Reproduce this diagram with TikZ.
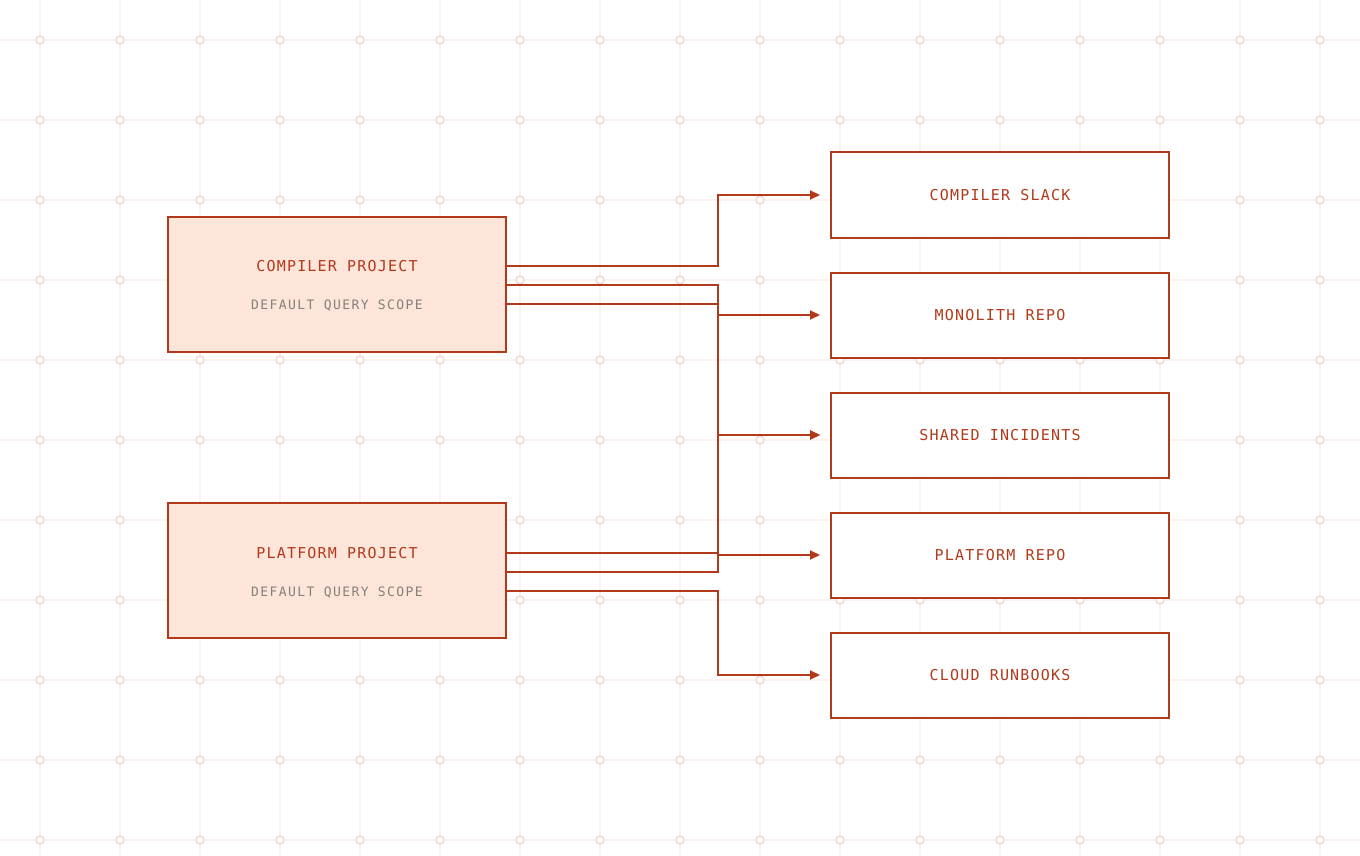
\documentclass[tikz,border=0pt]{standalone}
\usepackage{xcolor}
\usepackage{fontspec}
\setmonofont{DejaVu Sans Mono}
\newfontfamily\titlefont[LetterSpace=8]{DejaVu Sans Mono}
\newfontfamily\subfont[LetterSpace=11]{DejaVu Sans Mono}
\usepackage{tikz}
\usetikzlibrary{positioning,arrows.meta}

\definecolor{rust}{HTML}{B23A1B}
\definecolor{peach}{HTML}{FEE5D9}
\definecolor{scopegray}{HTML}{85807C}
\definecolor{gridline}{HTML}{FCF3EF}
\definecolor{griddot}{HTML}{F1D5CC}

\begin{document}
\begin{tikzpicture}[x=1pt,y=-1pt]
\tikzstyle{gridrule}=[draw=gridline,line width=1.2pt]
\tikzstyle{gridring}=[draw=griddot,line width=1.3pt,fill=white]
\tikzstyle{projbox}=[draw=rust,line width=2pt,fill=peach,minimum width=338pt,minimum height=135pt,inner sep=0pt]
\tikzstyle{destbox}=[draw=rust,line width=2pt,fill=white,minimum width=338pt,minimum height=85pt,inner sep=0pt,text=rust,font=\titlefont\fontsize{15}{18}\selectfont]
\tikzstyle{projtitle}=[text=rust,font=\titlefont\fontsize{15}{18}\selectfont,inner sep=0pt,anchor=base]
\tikzstyle{projscope}=[text=scopegray,font=\subfont\fontsize{13}{16}\selectfont,inner sep=0pt,anchor=base]
\tikzstyle{link}=[draw=rust,line width=2pt,-{Triangle[length=10pt,width=9pt]}]

\useasboundingbox (0,0) rectangle (1360,856);
\fill[white] (0,0) rectangle (1360,856);

% background grid
\foreach \x in {0,...,16}
    \draw [gridrule] (40+\x*80,0) -- (40+\x*80,856);
\foreach \y in {0,...,10}
    \draw [gridrule] (0,40+\y*80) -- (1360,40+\y*80);
\foreach \x in {0,...,16}
{
    \foreach \y in {0,...,10}
        \draw [gridring] (40+\x*80,40+\y*80) circle [radius=4pt];
}

% projects
\node [projbox] (compiler) at (337,284) {};
\node [projtitle] (compilerT) at (337,271) {COMPILER PROJECT};
\node [projscope] (compilerS) at (337,309) {DEFAULT QUERY SCOPE};
\node [projbox] (platform) at (337,570.5) {};
\node [projtitle] (platformT) at (337,558) {PLATFORM PROJECT};
\node [projscope] (platformS) at (337,596) {DEFAULT QUERY SCOPE};

% destinations
\foreach \n/\t [count=\i from 0] in {slack/COMPILER SLACK,monolith/MONOLITH REPO,shared/SHARED INCIDENTS,platrepo/PLATFORM REPO,runbooks/CLOUD RUNBOOKS}
    \node [destbox] (\n) at (1000,195+\i*120) {\t};

\coordinate (bus) at (718,435);

% links
\foreach \s/\dy/\d in {compiler/18/slack,compiler/-1/monolith,compiler/-20/shared,platform/17.5/shared,platform/-1.5/platrepo,platform/-20.5/runbooks}
    \draw [link] ([yshift=\dy pt]\s.east) -- ([yshift=\dy pt]\s.east -| bus) |- ([xshift=-10pt]\d.west);
\end{tikzpicture}
\end{document}
